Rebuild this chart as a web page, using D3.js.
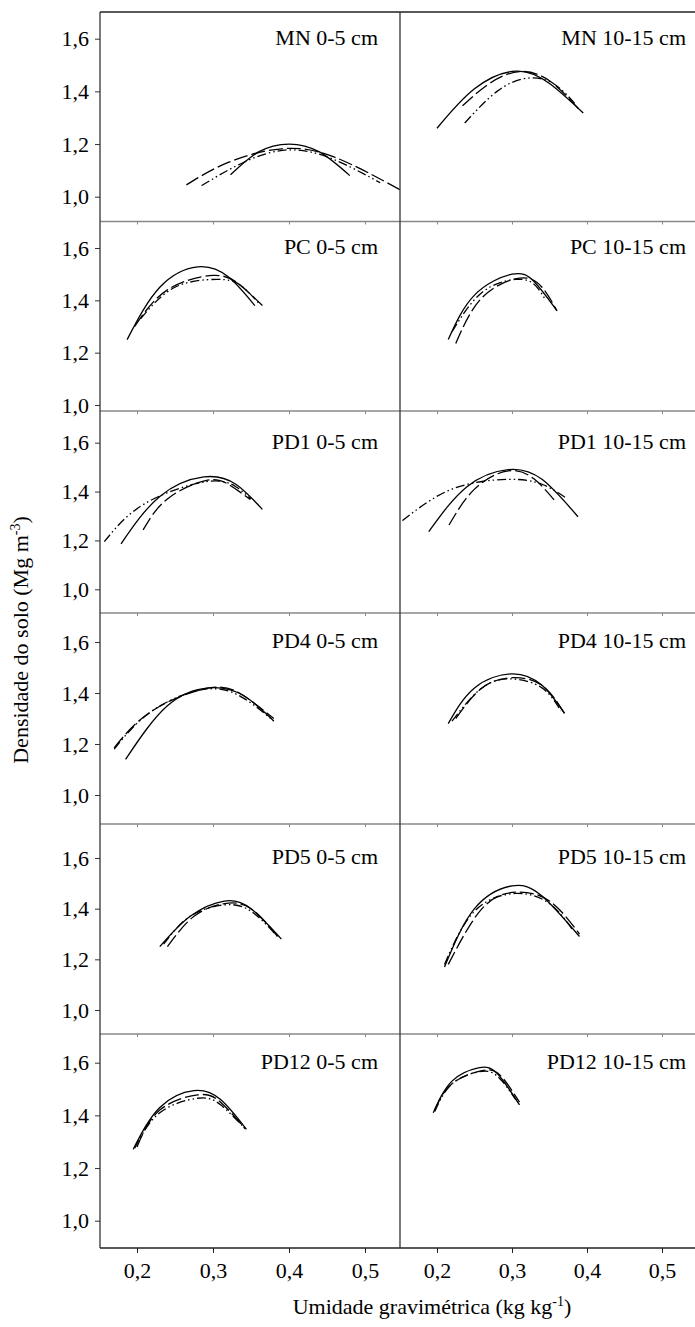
<!DOCTYPE html>
<html>
<head>
<meta charset="utf-8">
<script src="https://cdn.jsdelivr.net/npm/d3@7"></script>
<style>
  html, body { margin: 0; padding: 0; background: #fff; }
  svg { display: block; font-family: "Liberation Serif", "DejaVu Serif", serif; }
</style>
</head>
<body>
<div id="chart"></div>
<script>
// Soil density vs gravimetric moisture — 12 Proctor-type curves, 6 rows x 2 columns

// ─── Data ─────────────────────────────────────────────────────────────────────

const xTicks = [0.2, 0.3, 0.4, 0.5];
const yTicks = [1.0, 1.2, 1.4, 1.6];

const panelTitles = [
  'MN 0-5 cm', 'MN 10-15 cm',
  'PC 0-5 cm', 'PC 10-15 cm',
  'PD1 0-5 cm', 'PD1 10-15 cm',
  'PD4 0-5 cm', 'PD4 10-15 cm',
  'PD5 0-5 cm', 'PD5 10-15 cm',
  'PD12 0-5 cm', 'PD12 10-15 cm',
];

// points [moisture, density]
const solidCurves = [
  [[0.323, 1.083], [0.36, 1.17], [0.40, 1.20], [0.44, 1.17], [0.48, 1.08]],
  [[0.20, 1.26], [0.25, 1.41], [0.305, 1.477], [0.35, 1.43], [0.395, 1.318]],
  [[0.187, 1.25], [0.23, 1.45], [0.28, 1.528], [0.32, 1.49], [0.355, 1.38]],
  [[0.215, 1.25], [0.25, 1.42], [0.30, 1.50], [0.33, 1.47], [0.36, 1.36]],
  [[0.179, 1.186], [0.23, 1.38], [0.288, 1.46], [0.33, 1.43], [0.365, 1.327]],
  [[0.189, 1.236], [0.24, 1.42], [0.295, 1.49], [0.34, 1.45], [0.388, 1.297]],
  [[0.185, 1.14], [0.24, 1.35], [0.295, 1.42], [0.34, 1.39], [0.38, 1.29]],
  [[0.215, 1.28], [0.25, 1.42], [0.30, 1.475], [0.34, 1.43], [0.37, 1.32]],
  [[0.23, 1.25], [0.27, 1.37], [0.315, 1.43], [0.35, 1.40], [0.39, 1.28]],
  [[0.21, 1.17], [0.25, 1.40], [0.30, 1.49], [0.34, 1.45], [0.39, 1.29]],
  [[0.195, 1.271], [0.23, 1.43], [0.275, 1.494], [0.31, 1.46], [0.344, 1.347]],
  [[0.195, 1.41], [0.22, 1.53], [0.255, 1.58], [0.28, 1.56], [0.31, 1.44]],
];

const longDashCurves = [
  [[0.265, 1.045], [0.32, 1.13], [0.39, 1.182], [0.46, 1.15], [0.55, 1.02]],
  [[0.234, 1.345], [0.27, 1.43], [0.31, 1.475], [0.35, 1.44], [0.39, 1.33]],
  [[0.197, 1.30], [0.24, 1.44], [0.30, 1.495], [0.335, 1.46], [0.365, 1.38]],
  [[0.225, 1.235], [0.26, 1.41], [0.31, 1.485], [0.34, 1.45], [0.36, 1.36]],
  [[0.208, 1.243], [0.24, 1.37], [0.29, 1.445], [0.32, 1.43], [0.349, 1.368]],
  [[0.216, 1.263], [0.25, 1.41], [0.295, 1.485], [0.33, 1.45], [0.358, 1.359]],
  [[0.17, 1.185], [0.22, 1.33], [0.295, 1.42], [0.34, 1.39], [0.38, 1.30]],
  [[0.225, 1.30], [0.26, 1.42], [0.30, 1.46], [0.34, 1.43], [0.37, 1.32]],
  [[0.24, 1.25], [0.275, 1.37], [0.315, 1.42], [0.35, 1.40], [0.385, 1.29]],
  [[0.215, 1.18], [0.26, 1.40], [0.305, 1.465], [0.35, 1.43], [0.39, 1.30]],
  [[0.20, 1.28], [0.23, 1.42], [0.28, 1.478], [0.31, 1.45], [0.342, 1.35]],
  [[0.197, 1.42], [0.22, 1.52], [0.26, 1.57], [0.285, 1.55], [0.31, 1.45]],
];

const dashDotCurves = [
  [[0.285, 1.042], [0.34, 1.13], [0.40, 1.178], [0.46, 1.14], [0.52, 1.053]],
  [[0.237, 1.28], [0.28, 1.40], [0.32, 1.45], [0.355, 1.43], [0.385, 1.35]],
  [[0.205, 1.33], [0.25, 1.45], [0.305, 1.48], [0.335, 1.46], [0.36, 1.39]],
  [[0.22, 1.28], [0.26, 1.43], [0.305, 1.48], [0.33, 1.46], [0.345, 1.40]],
  [[0.157, 1.195], [0.21, 1.35], [0.29, 1.44], [0.33, 1.42], [0.35, 1.37]],
  [[0.154, 1.281], [0.22, 1.41], [0.294, 1.45], [0.34, 1.43], [0.373, 1.372]],
  [[0.17, 1.18], [0.22, 1.33], [0.29, 1.415], [0.34, 1.38], [0.38, 1.29]],
  [[0.22, 1.29], [0.26, 1.42], [0.30, 1.455], [0.34, 1.42], [0.365, 1.33]],
  [[0.235, 1.26], [0.27, 1.37], [0.315, 1.415], [0.35, 1.39], [0.385, 1.29]],
  [[0.21, 1.18], [0.25, 1.39], [0.305, 1.46], [0.35, 1.42], [0.38, 1.32]],
  [[0.197, 1.275], [0.23, 1.41], [0.28, 1.465], [0.31, 1.44], [0.344, 1.345]],
  [[0.197, 1.415], [0.22, 1.52], [0.255, 1.565], [0.28, 1.55], [0.305, 1.46]],
];

// ─── Layout ───────────────────────────────────────────────────────────────────

const W = 695, H = 1327;
const FONT = 22;
const colFrames = [
  { left: 100, right: 400, x02: 137, x05: 365, titleRight: 378 },
  { left: 400, right: 700, x02: 437, x05: 662, titleRight: 686 },
];
const rowFrames = [
  { top: 12, bottom: 221.5, y16: 38.7, y10: 196.7 },
  { top: 221.5, bottom: 411, y16: 248, y10: 405 },
  { top: 411, bottom: 613, y16: 442.7, y10: 589.3 },
  { top: 613, bottom: 824, y16: 642, y10: 795 },
  { top: 824, bottom: 1034, y16: 858, y10: 1010 },
  { top: 1034, bottom: 1248, y16: 1062.7, y10: 1220.7 },
];

const svg = d3.select('#chart').append('svg')
  .attr('width', W)
  .attr('height', H);

const defs = svg.append('defs');

const styles = [
  { curves: solidCurves, dash: null },
  { curves: longDashCurves, dash: '14,4' },
  { curves: dashDotCurves, dash: '9,3,1.5,3,1.5,3' },
];

const comma = d => d3.format('.1f')(d).replace('.', ',');

// ─── Panels ───────────────────────────────────────────────────────────────────

rowFrames.forEach((row, r) => {
  const y = d3.scaleLinear().domain([1.0, 1.6]).range([row.y10, row.y16]);
  const last = r === rowFrames.length - 1;

  colFrames.forEach((col, c) => {
    const i = r * 2 + c;
    const x = d3.scaleLinear().domain([0.2, 0.5]).range([col.x02, col.x05]);

    const clipId = `clip-${i}`;
    defs.append('clipPath').attr('id', clipId)
      .append('rect')
      .attr('x', col.left)
      .attr('y', row.top)
      .attr('width', col.right - col.left)
      .attr('height', row.bottom - row.top);

    const g = svg.append('g').attr('clip-path', `url(#${clipId})`);

    const line = d3.line()
      .x(d => x(d[0]))
      .y(d => y(d[1]))
      .curve(d3.curveNatural);

    styles.forEach(s => {
      g.append('path')
        .attr('d', line(s.curves[i]))
        .attr('fill', 'none')
        .attr('stroke', '#000')
        .attr('stroke-width', 1.3)
        .attr('stroke-dasharray', s.dash);
    });

    svg.append('text')
      .attr('x', col.titleRight)
      .attr('y', row.y16 + 6)
      .attr('text-anchor', 'end')
      .attr('font-size', FONT)
      .attr('fill', '#000')
      .text(panelTitles[i]);

    // bottom line of the panel (x axis)
    const xAxis = d3.axisBottom(x)
      .tickValues(xTicks)
      .tickSize(last ? 5 : 3)
      .tickFormat(d => last ? comma(d) : '');
    const ax = svg.append('g')
      .attr('transform', `translate(0,${row.bottom})`)
      .call(xAxis);
    ax.select('.domain')
      .attr('d', `M${col.left},0H${col.right}`)
      .attr('stroke', last ? '#222' : '#888')
      .attr('stroke-width', 1.4);
    ax.selectAll('.tick line').attr('stroke', last ? '#222' : '#888');
    ax.selectAll('.tick text')
      .attr('font-family', '"Liberation Serif", serif')
      .attr('font-size', FONT)
      .attr('fill', '#000')
      .attr('y', 14)
      .attr('dy', '0.71em');

    // left border of each panel
    svg.append('line')
      .attr('x1', col.left).attr('x2', col.left)
      .attr('y1', row.top).attr('y2', row.bottom)
      .attr('stroke', '#333')
      .attr('stroke-width', 1.3);
  });

  // y axis on the left column only
  const yAxis = d3.axisLeft(y)
    .tickValues(yTicks)
    .tickSize(5)
    .tickFormat(comma);
  const ay = svg.append('g')
    .attr('transform', `translate(${colFrames[0].left},0)`)
    .call(yAxis);
  ay.select('.domain').remove();
  ay.selectAll('.tick line').attr('stroke', '#333');
  ay.selectAll('.tick text')
    .attr('font-family', '"Liberation Serif", serif')
    .attr('font-size', FONT)
    .attr('fill', '#000')
    .attr('x', -11);
});

// top border of the first row
svg.append('line')
  .attr('x1', colFrames[0].left).attr('x2', W)
  .attr('y1', rowFrames[0].top).attr('y2', rowFrames[0].top)
  .attr('stroke', '#222')
  .attr('stroke-width', 1.3);

// ─── Axis titles ──────────────────────────────────────────────────────────────

const yTitle = svg.append('text')
  .attr('transform', 'translate(28,640) rotate(-90)')
  .attr('text-anchor', 'middle')
  .attr('font-size', FONT)
  .attr('fill', '#000');
yTitle.append('tspan').text('Densidade do solo (Mg m');
yTitle.append('tspan').attr('font-size', 14).attr('dy', -8).text('-3');
yTitle.append('tspan').attr('dy', 8).text(')');

const xTitle = svg.append('text')
  .attr('x', 432)
  .attr('y', 1314)
  .attr('text-anchor', 'middle')
  .attr('font-size', FONT)
  .attr('fill', '#000');
xTitle.append('tspan').text('Umidade gravimétrica (kg kg');
xTitle.append('tspan').attr('font-size', 14).attr('dy', -8).text('-1');
xTitle.append('tspan').attr('dy', 8).text(')');
</script>
</body>
</html>
